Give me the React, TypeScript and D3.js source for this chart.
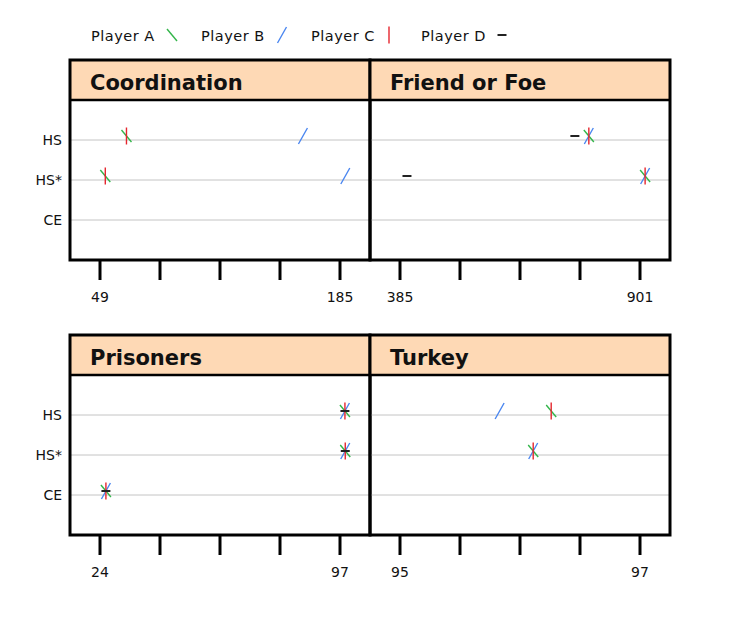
import React from "react";
import * as d3 from "d3";

const categories = ["HS", "HS*", "CE"];
const players = ["Player A", "Player B", "Player C", "Player D"];
const games = ["Coordination", "Friend or Foe", "Prisoners", "Turkey"];
// axis end labels per game (5 ticks between them)
const tickEnds = [
  [49, 185],
  [385, 901],
  [24, 97],
  [95, 97],
];

// values[game][category], null = no point
const playerA = [
  [64, 52, null],
  [791, 912, null],
  [98.5, 98.6, 25.8],
  [96.26, 96.11, null],
];
const playerB = [
  [164, 188, null],
  [791, 912, null],
  [98.5, 98.6, 25.8],
  [95.83, 96.11, null],
];
const playerC = [
  [64, 52, null],
  [791, 912, null],
  [98.5, 98.6, 25.8],
  [96.26, 96.11, null],
];
const playerD = [
  [null, null, null],
  [761, 400, null],
  [98.5, 98.6, 25.8],
  [null, null, null],
];
const seriesValues = [playerA, playerB, playerC, playerD];

const colors = ["#33b54a", "#4a86f0", "#e5262e", "#222222"];

const W = 730, H = 620;
const colX = [70, 370];
const rowY = [60, 335];
const panelW = 300;
const stripH = 40;
const bodyH = 160;

// glyph-like markers: "\", "/", "|", "-"
const Marker = ({ i, x, y }: { i: number; x: number; y: number }) => {
  const c = colors[i];
  if (i === 0) return <line x1={x - 5} y1={y - 6} x2={x + 5} y2={y + 6} stroke={c} strokeWidth={1.4} />;
  if (i === 1) return <line x1={x - 4.5} y1={y + 8} x2={x + 4.5} y2={y - 8} stroke={c} strokeWidth={1.4} />;
  if (i === 2) return <line x1={x} y1={y - 8.5} x2={x} y2={y + 8.5} stroke={c} strokeWidth={1.4} />;
  return <line x1={x - 4.5} y1={y} x2={x + 4.5} y2={y} stroke={c} strokeWidth={2} />;
};

const Panel = ({ g }: { g: number }) => {
  const x0 = colX[g % 2];
  const y0 = rowY[Math.floor(g / 2)];
  const bodyTop = y0 + stripH;
  const [lo, hi] = tickEnds[g];
  const x = d3.scaleLinear().domain([lo, hi]).range([x0 + 30, x0 + panelW - 30]);
  const y = d3.scalePoint().domain(categories).range([bodyTop, bodyTop + bodyH]).padding(1);
  const ticks = d3.range(5).map((k) => lo + (k * (hi - lo)) / 4);
  return (
    <g>
      <rect x={x0} y={y0} width={panelW} height={stripH} fill="#fed9b5" />
      {categories.map((c) => (
        <line key={c} x1={x0} x2={x0 + panelW} y1={y(c)} y2={y(c)} stroke="#c4c4c4" strokeWidth={1} />
      ))}
      {seriesValues.map((s, i) =>
        s[g].map((v, j) =>
          v == null ? null : <Marker key={i + "-" + j} i={i} x={x(v)} y={(y(categories[j]) as number) - 4} />
        )
      )}
      <text x={x0 + 20} y={y0 + 30} fontSize={21} fontWeight="bold" fill="#111">
        {games[g]}
      </text>
      <rect x={x0} y={y0} width={panelW} height={stripH + bodyH} fill="none" stroke="#000" strokeWidth={3} />
      <line x1={x0} x2={x0 + panelW} y1={bodyTop} y2={bodyTop} stroke="#000" strokeWidth={2.5} />
      {ticks.map((t, k) => (
        <line key={k} x1={x(t)} x2={x(t)} y1={bodyTop + bodyH} y2={bodyTop + bodyH + 20} stroke="#000" strokeWidth={3} />
      ))}
      {[lo, hi].map((t, k) => (
        <text key={k} x={x(t)} y={bodyTop + bodyH + 42} textAnchor="middle" fontSize={14} fill="#111">
          {t}
        </text>
      ))}
      {g % 2 === 0 &&
        categories.map((c) => (
          <text key={c} x={x0 - 8} y={(y(c) as number) + 5} textAnchor="end" fontSize={14} fill="#111">
            {c}
          </text>
        ))}
    </g>
  );
};

export default function App() {
  return (
    <svg width={W} height={H} style={{ display: "block", margin: -8 }} fontFamily="DejaVu Sans, sans-serif">
      <rect width={W} height={H} fill="#fff" />
      {players.map((p, i) => (
        <g key={p}>
          <text x={91 + i * 110} y={41} fontSize={14.5} letterSpacing={0.5} fill="#111">
            {p}
          </text>
          <Marker i={i} x={172 + i * 110 - (i === 2 ? 3 : 0)} y={35} />
        </g>
      ))}
      {games.map((_, g) => (
        <Panel key={g} g={g} />
      ))}
    </svg>
  );
}
